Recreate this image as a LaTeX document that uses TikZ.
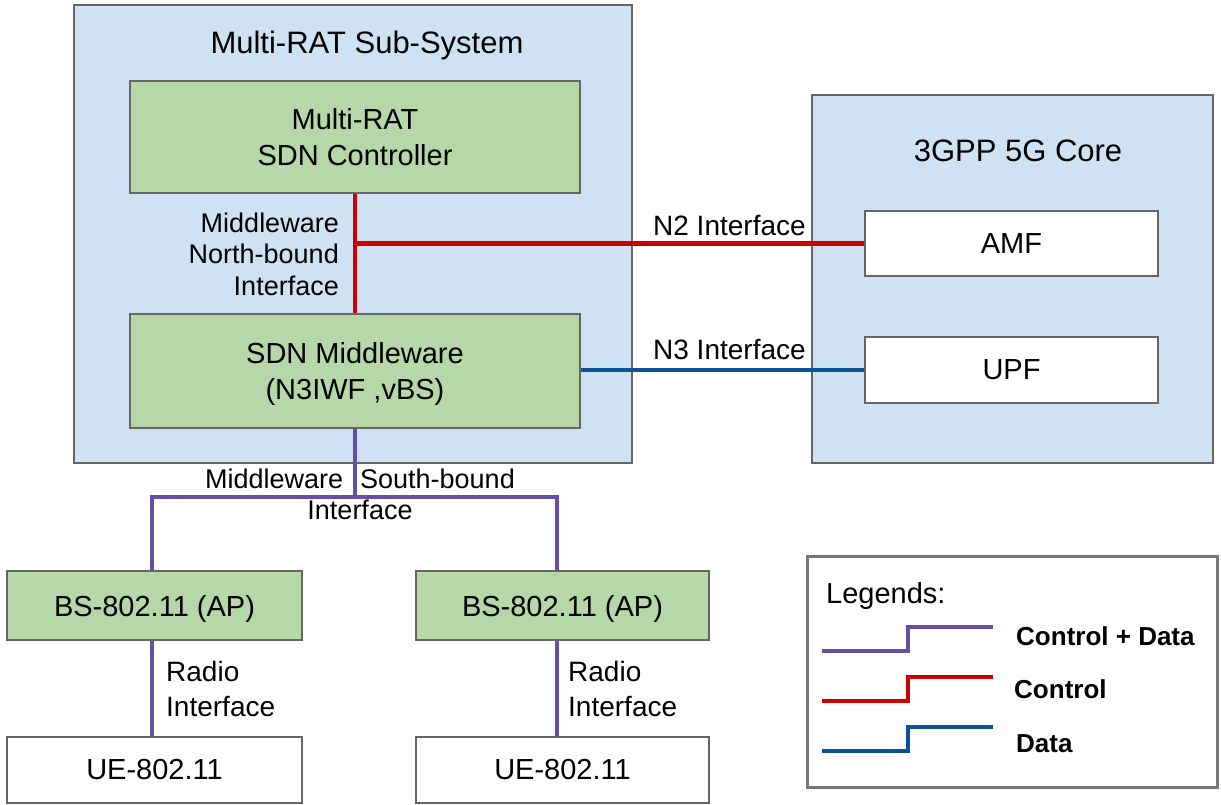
\documentclass[tikz,border=0pt]{standalone}
\usepackage{fontspec}
\setmainfont{Liberation Sans}
\definecolor{subfill}{HTML}{CFE2F3}
\definecolor{grnfill}{HTML}{B6D7A8}
\definecolor{edgegray}{HTML}{666666}
\definecolor{leggray}{HTML}{777777}
\definecolor{cred}{HTML}{CC0000}
\definecolor{cblue}{HTML}{0B5394}
\definecolor{cpurp}{HTML}{674EA7}
\begin{document}
\begin{tikzpicture}[x=1pt,y=-1pt,
  sysbox/.style={draw=edgegray,fill=subfill,line width=1.8pt,inner sep=0pt},
  grnbox/.style={draw=edgegray,fill=grnfill,line width=1.8pt,inner sep=0pt,align=center,font=\fontsize{29}{36}\selectfont},
  whtbox/.style={draw=edgegray,fill=white,line width=1.8pt,inner sep=0pt,align=center,font=\fontsize{29}{36}\selectfont},
  titletext/.style={inner sep=0pt,font=\fontsize{31}{37}\selectfont},
  lbl/.style={inner sep=0pt,font=\fontsize{27}{31.5}\selectfont},
  rlbl/.style={inner sep=0pt,align=left,font=\fontsize{28}{35}\selectfont},
  ilbl/.style={inner sep=0pt,font=\fontsize{28}{34}\selectfont},
  ctrlline/.style={draw=cred,line width=4.5pt},
  dataline/.style={draw=cblue,line width=4.5pt},
  cdline/.style={draw=cpurp,line width=4.5pt},
  legline/.style={line width=3.5pt},
  legtext/.style={inner sep=0pt,font=\fontsize{26}{30}\selectfont\bfseries}]
\useasboundingbox (0,0) rectangle (1221,805);
% outer systems
\node[sysbox, minimum width=558, minimum height=458] (mrat) at (353,234) {};
\node[sysbox, minimum width=401, minimum height=368] (core) at (1012.5,279) {};
\node[titletext, anchor=base] (mratT) at (367,54) {Multi-RAT Sub-System};
\node[titletext, anchor=base] (coreT) at (1018,162) {3GPP 5G Core};
% inner boxes
\node[grnbox, minimum width=450, minimum height=112] (ctrl) at (355,137) {Multi-RAT\\SDN Controller};
\node[grnbox, text depth=0pt, minimum width=450, minimum height=114] (mw) at (355,371) {SDN Middleware\\(N3IWF ,vBS)};
\node[whtbox, minimum width=293, minimum height=65] (amf) at (1011.5,243.5) {AMF};
\node[whtbox, minimum width=293, minimum height=66] (upf) at (1011.5,370) {UPF};
\node[grnbox, text depth=0pt, minimum width=295, minimum height=69] (bs1) at (154.5,605.5) {BS-802.11 (AP)};
\node[grnbox, text depth=0pt, minimum width=293, minimum height=69] (bs2) at (562.5,605.5) {BS-802.11 (AP)};
\node[whtbox, minimum width=295, minimum height=66] (ue1) at (154.5,770) {UE-802.11};
\node[whtbox, minimum width=293, minimum height=66] (ue2) at (562.5,770) {UE-802.11};
% connectors
\draw[ctrlline] (ctrl.south) -- (mw.north);
\draw[ctrlline] (ctrl.south |- amf.west) -- (amf.west);
\draw[dataline] (mw.east |- upf.west) -- (upf.west);
\coordinate (bus) at (355,497);
\draw[cdline] (mw.south) -- (bus);
\draw[cdline] ([xshift=-2.5pt]bs1.north) |- (bus) -| ([xshift=-5.5pt]bs2.north);
\draw[cdline] ([xshift=-2.5pt]bs1.south) -- ([xshift=-2.5pt]ue1.north);
\draw[cdline] ([xshift=-5.5pt]bs2.south) -- ([xshift=-5.5pt]ue2.north);
% labels
\node[lbl, align=right, anchor=north east] (nbl) at (339,212.5) {Middleware\\North-bound\\Interface};
\node[ilbl, anchor=base west] (n2l) at (653,236) {N2 Interface};
\node[ilbl, anchor=base west] (n3l) at (653,359) {N3 Interface};
\node[lbl, align=center, anchor=north] (sbl) at (360,468.5) {Middleware\hspace*{17pt}South-bound\\Interface};
\node[rlbl, anchor=north west] (r1l) at (166,661.5) {Radio\\Interface};
\node[rlbl, anchor=north west] (r2l) at (568,661.5) {Radio\\Interface};
% legend
\node[draw=leggray, line width=3pt, minimum width=410, minimum height=231, inner sep=0pt] (leg) at (1012,671.5) {};
\node[inner sep=0pt, anchor=base west, font=\fontsize{29}{34}\selectfont] (legT) at (826,603) {Legends:};
\draw[legline, cpurp] (822,651) -- (908,651) -- (908,627) -- (993,627);
\draw[legline, cred] (822,701) -- (908,701) -- (908,677) -- (993,677);
\draw[legline, cblue] (822,751) -- (908,751) -- (908,727) -- (993,727);
\node[legtext, anchor=base west] (lcd) at (1016,645) {Control + Data};
\node[legtext, anchor=base west] (lc) at (1014,698) {Control};
\node[legtext, anchor=base west] (ld) at (1016,752) {Data};
\end{tikzpicture}
\end{document}
